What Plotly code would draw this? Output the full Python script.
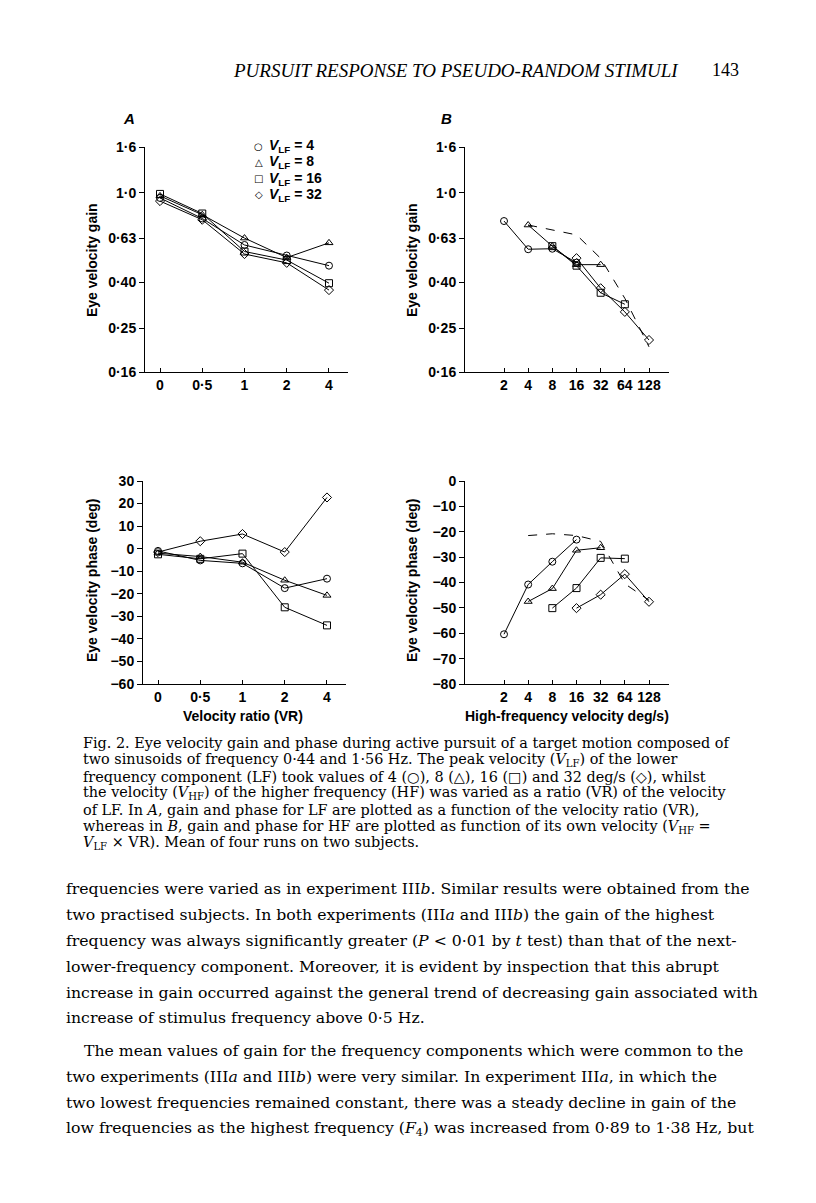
import plotly.graph_objects as go
import numpy as np

# page is 816x1203; the html body has an 8px default margin, so the figure is 800x1187
W, H = 800, 1187
OFF = 8

# ---------------- data ----------------
vr_labels = ["0", "0·5", "1", "2", "4"]
hf_velocity = [2, 4, 8, 16, 32, 64, 128]

legend_labels = ["<i>V</i><sub>LF</sub> = 4", "<i>V</i><sub>LF</sub> = 8",
                 "<i>V</i><sub>LF</sub> = 16", "<i>V</i><sub>LF</sub> = 32"]
legend_glyphs = ["○", "△", "□", "◇"]
symbols = ["circle-open", "triangle-up-open", "square-open", "diamond-open"]

# Panel A: LF gain vs velocity ratio
gainA_4 = [0.95, 0.77, 0.587, 0.527, 0.475]
gainA_8 = [0.97, 0.80, 0.63, 0.516, 0.60]
gainA_16 = [0.99, 0.81, 0.549, 0.503, 0.397]
gainA_32 = [0.92, 0.76, 0.535, 0.489, 0.37]

# Panel A: LF phase vs velocity ratio
phaseA_4 = [-1.0, -5.2, -6.5, -17.5, -13.3]
phaseA_8 = [-2.0, -3.5, -6.0, -14.0, -20.7]
phaseA_16 = [-2.5, -4.5, -2.2, -26.0, -34.0]
phaseA_32 = [-1.5, 3.3, 6.5, -1.5, 22.7]

# Panel B: HF velocity for each series (V_HF = V_LF x VR)
hfB_4 = [2, 4, 8, 16]
hfB_8 = [4, 8, 16, 32]
hfB_16 = [8, 16, 32, 64]
hfB_32 = [16, 32, 64, 128]

gainB_4 = [0.75, 0.562, 0.565, 0.49]
gainB_8 = [0.72, 0.58, 0.48, 0.48]
gainB_16 = [0.58, 0.475, 0.36, 0.32]
gainB_32 = [0.513, 0.377, 0.296, 0.222]

phaseB_4 = [-60.4, -40.8, -31.8, -23.1]
phaseB_8 = [-47.5, -42.4, -27.3, -26.3]
phaseB_16 = [-50.1, -42.2, -30.3, -30.6]
phaseB_32 = [-50.1, -44.8, -36.7, -47.6]

# dashed reference curves in B
dash_gain_x = [4, 16, 32, 64, 128]
dash_gain_y = [0.72, 0.651, 0.512, 0.340, 0.207]
dash_phase_x = [4, 8, 16, 32, 64, 128]
dash_phase_y = [-21.5, -20.8, -21.5, -23.8, -40.5, -47.0]

gain_ticks = [0.16, 0.25, 0.40, 0.63, 1.0, 1.6]
gain_ticktext = ["0·16", "0·25", "0·40", "0·63", "1·0", "1·6"]
phaseA_ticks = [-60, -50, -40, -30, -20, -10, 0, 10, 20, 30]
phaseB_ticks = [-80, -70, -60, -50, -40, -30, -20, -10, 0]

# ---------------- helpers (page pixel -> paper) ----------------
def px(x):
    return (x - OFF) / W

def py(y):
    return 1 - (y - OFF) / H

SANS = "Liberation Sans, Arial, sans-serif"
SERIF = "DejaVu Serif, serif"
HSERIF = "Liberation Serif, Times New Roman, serif"

fig = go.Figure()

gA = [gainA_4, gainA_8, gainA_16, gainA_32]
pA = [phaseA_4, phaseA_8, phaseA_16, phaseA_32]
hB = [hfB_4, hfB_8, hfB_16, hfB_32]
gB = [gainB_4, gainB_8, gainB_16, gainB_32]
pB = [phaseB_4, phaseB_8, phaseB_16, phaseB_32]

mk = lambda s: dict(symbol=s, size=7, color="black", line=dict(color="black", width=1))
ln = dict(color="black", width=1)

for i in range(4):
    fig.add_trace(go.Scatter(x=vr_labels, y=gA[i], mode="lines+markers", marker=mk(symbols[i]),
                             line=ln, xaxis="x", yaxis="y", showlegend=False))
    fig.add_trace(go.Scatter(x=hB[i], y=gB[i], mode="lines+markers", marker=mk(symbols[i]),
                             line=ln, xaxis="x2", yaxis="y2", showlegend=False))
    fig.add_trace(go.Scatter(x=vr_labels, y=pA[i], mode="lines+markers", marker=mk(symbols[i]),
                             line=ln, xaxis="x3", yaxis="y3", showlegend=False))
    fig.add_trace(go.Scatter(x=hB[i], y=pB[i], mode="lines+markers", marker=mk(symbols[i]),
                             line=ln, xaxis="x4", yaxis="y4", showlegend=False))

fig.add_trace(go.Scatter(x=dash_gain_x, y=dash_gain_y, mode="lines",
                         line=dict(color="black", width=1, dash="dash"),
                         xaxis="x2", yaxis="y2", showlegend=False))
fig.add_trace(go.Scatter(x=dash_phase_x, y=dash_phase_y, mode="lines",
                         line=dict(color="black", width=1, dash="dash"),
                         xaxis="x4", yaxis="y4", showlegend=False))

tickfont = dict(family=SANS, size=14, color="black", weight="bold")

def xcat(domain):
    return dict(domain=domain, type="category", range=[-0.355, 4.45],
                showline=True, linecolor="black", linewidth=1, ticks="inside",
                ticklen=4, tickcolor="black", showgrid=False, zeroline=False,
                tickfont=tickfont, fixedrange=True)

lo, hi = np.log10(2), np.log10(128)
def xlog(domain):
    span = (hi - lo) / (649 - 504)
    return dict(domain=domain, type="log",
                range=[lo - (504 - 465) * span, hi + (669 - 649) * span],
                tickvals=hf_velocity, ticktext=[str(v) for v in hf_velocity],
                showline=True, linecolor="black", linewidth=1, ticks="inside",
                ticklen=4, tickcolor="black", showgrid=False, zeroline=False,
                tickfont=tickfont, fixedrange=True)

def ygain(domain, anchor):
    return dict(domain=domain, type="log", range=[np.log10(0.16), np.log10(1.6)],
                tickvals=gain_ticks, ticktext=gain_ticktext, anchor=anchor,
                showline=True, linecolor="black", linewidth=1, ticks="outside",
                ticklen=5, tickcolor="black", showgrid=False, zeroline=False,
                tickfont=tickfont, fixedrange=True)

def yphase(domain, anchor, rng, tv):
    return dict(domain=domain, range=rng, tickvals=tv, anchor=anchor,
                showline=True, linecolor="black", linewidth=1, ticks="outside",
                ticklen=5, tickcolor="black", showgrid=False, zeroline=False,
                tickfont=tickfont, fixedrange=True)

top_dom = [py(372), py(147)]
bot_dom = [py(684), py(481)]
fig.update_layout(
    width=W, height=H, margin=dict(l=0, r=0, t=0, b=0, autoexpand=False),
    paper_bgcolor="white", plot_bgcolor="white", showlegend=False,
    xaxis=dict(**xcat([px(145), px(348)]), anchor="y"),
    yaxis=ygain(top_dom, "x"),
    xaxis2=dict(**xlog([px(465), px(669)]), anchor="y2"),
    yaxis2=ygain(top_dom, "x2"),
    xaxis3=dict(**xcat([px(143), px(346)]), anchor="y3"),
    yaxis3=yphase(bot_dom, "x3", [-60, 30], phaseA_ticks),
    xaxis4=dict(**xlog([px(465), px(669)]), anchor="y4"),
    yaxis4=yphase(bot_dom, "x4", [-80, 0], phaseB_ticks),
)

ann = []
def text(x, y, s, size, family=SANS, xanchor="left", angle=0, weight="normal", style="normal"):
    ann.append(dict(x=px(x), y=py(y), xref="paper", yref="paper", text=s, showarrow=False,
                    xanchor=xanchor, yanchor="middle", textangle=angle,
                    font=dict(family=family, size=size, color="black", weight=weight, style=style)))

# header
text(456, 70, "PURSUIT RESPONSE TO PSEUDO-RANDOM STIMULI", 19, HSERIF, "center", style="italic")
text(741, 70, "143", 18, HSERIF, "right")

# panel letters
text(129, 118, "A", 15, SANS, "center", weight="bold", style="italic")
text(446, 118, "B", 15, SANS, "center", weight="bold", style="italic")

# legend (panel A, top)
leg_y = [146, 162, 179, 195]
for g, s, y in zip(legend_glyphs, legend_labels, leg_y):
    text(259, y, g, 10, "DejaVu Sans", "center")
    text(267, y, s, 14, SANS, "left", weight="bold")

# axis titles
text(92, 260, "Eye velocity gain", 14, SANS, "center", angle=-90, weight="bold")
text(412, 260, "Eye velocity gain", 14, SANS, "center", angle=-90, weight="bold")
text(92, 581, "Eye velocity phase (deg)", 14, SANS, "center", angle=-90, weight="bold")
text(412, 581, "Eye velocity phase (deg)", 14, SANS, "center", angle=-90, weight="bold")
text(243, 716, "Velocity ratio (VR)", 14, SANS, "center", weight="bold")
text(567, 716, "High-frequency velocity deg/s)", 14, SANS, "center", weight="bold")

# caption
cap = [
    "Fig. 2. Eye velocity gain and phase during active pursuit of a target motion composed of",
    "two sinusoids of frequency 0·44 and 1·56 Hz. The peak velocity (<i>V</i><sub>LF</sub>) of the lower",
    "frequency component (LF) took values of 4 (○), 8 (△), 16 (□) and 32 deg/s (◇), whilst",
    "the velocity (<i>V</i><sub>HF</sub>) of the higher frequency (HF) was varied as a ratio (VR) of the velocity",
    "of LF. In <i>A</i>, gain and phase for LF are plotted as a function of the velocity ratio (VR),",
    "whereas in <i>B</i>, gain and phase for HF are plotted as function of its own velocity (<i>V</i><sub>HF</sub> =",
    "<i>V</i><sub>LF</sub> × VR). Mean of four runs on two subjects.",
]
cap_y = [743, 760, 777, 793, 810, 827, 843]
for s, y in zip(cap, cap_y):
    text(81, y, s, 14.4, SERIF)

body = [
    "frequencies were varied as in experiment III<i>b</i>. Similar results were obtained from the",
    "two practised subjects. In both experiments (III<i>a</i> and III<i>b</i>) the gain of the highest",
    "frequency was always significantly greater (<i>P</i> < 0·01 by <i>t</i> test) than that of the next-",
    "lower-frequency component. Moreover, it is evident by inspection that this abrupt",
    "increase in gain occurred against the general trend of decreasing gain associated with",
    "increase of stimulus frequency above 0·5 Hz.",
    "The mean values of gain for the frequency components which were common to the",
    "two experiments (III<i>a</i> and III<i>b</i>) were very similar. In experiment III<i>a</i>, in which the",
    "two lowest frequencies remained constant, there was a steady decline in gain of the",
    "low frequencies as the highest frequency (<i>F</i><sub>4</sub>) was increased from 0·89 to 1·38 Hz, but",
]
body_y = [888, 914, 940, 966, 992, 1018, 1050, 1076, 1102, 1128]
for i, (s, y) in enumerate(zip(body, body_y)):
    text(82 if i == 6 else 64, y, s, 15.7, SERIF)

fig.update_layout(annotations=ann)
fig.write_html("out.html")
